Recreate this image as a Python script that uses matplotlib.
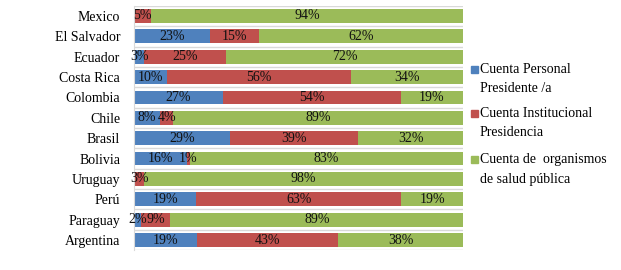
import numpy as np
import matplotlib
matplotlib.use("Agg")
from matplotlib import pyplot as plt
from matplotlib.patches import Rectangle

plt.rcParams['font.family'] = ['Liberation Serif', 'DejaVu Serif']

# Data (top to bottom as in the picture)
countries = ["Mexico", "El Salvador", "Ecuador", "Costa Rica", "Colombia", "Chile",
             "Brasil", "Bolivia", "Uruguay", "Perú", "Paraguay", "Argentina"]
personal = [0, 23, 3, 10, 27, 8, 29, 16, 0, 19, 2, 19]
institucional = [5, 15, 25, 56, 54, 4, 39, 1, 3, 63, 9, 43]
salud = [94, 62, 72, 34, 19, 89, 32, 83, 98, 19, 89, 38]
series_names = ["Cuenta Personal\nPresidente /a",
                "Cuenta Institucional\nPresidencia",
                "Cuenta de  organismos\nde salud pública"]
colors = ["#4F81BD", "#C0504D", "#9BBB59"]

fig = plt.figure(figsize=(6.21, 2.70), dpi=100)
ax = fig.add_axes([0.216, 0.0733, 0.530, 0.9052])

data = np.array([personal, institucional, salud], dtype=float)
totals = data.sum(axis=0)
shares = data / totals
y = np.arange(len(countries))

left = np.zeros(len(countries))
for i in range(3):
    ax.barh(y, shares[i], left=left, height=0.68, color=colors[i], zorder=2)
    for j in range(len(countries)):
        if data[i, j] > 0:
            ax.text(left[j] + shares[i, j] / 2, y[j], "%d%%" % data[i, j],
                    ha="center", va="center", fontsize=10, color="#111111", zorder=3)
    left += shares[i]

ax.set_xlim(0, 1)
ax.set_ylim(len(countries) - 0.5, -0.5)
ax.set_yticks(y)
ax.set_yticklabels(countries, fontsize=10)
ax.set_xticks([])
ax.tick_params(axis="y", length=0, pad=10)
for b in np.arange(-0.5, len(countries), 1.0):
    ax.axhline(b, color="#D9D9D9", lw=1, zorder=1)
for s in ["top", "right", "bottom"]:
    ax.spines[s].set_visible(False)
ax.spines["left"].set_color("#D9D9D9")

# legend drawn by hand so the square sits next to the first line
W, H = 621.0, 270.0
entry_y = [69, 113, 159]
for i, name in enumerate(series_names):
    yy = 1 - entry_y[i] / H
    fig.patches.append(Rectangle((471 / W, yy - 3.5 / H), 6.5 / W, 7 / H,
                                 transform=fig.transFigure, color=colors[i]))
    fig.text(480 / W, yy + 6 / H, name, fontsize=10, va="top", ha="left",
             linespacing=1.65)

fig.savefig("out.png", dpi=100)
